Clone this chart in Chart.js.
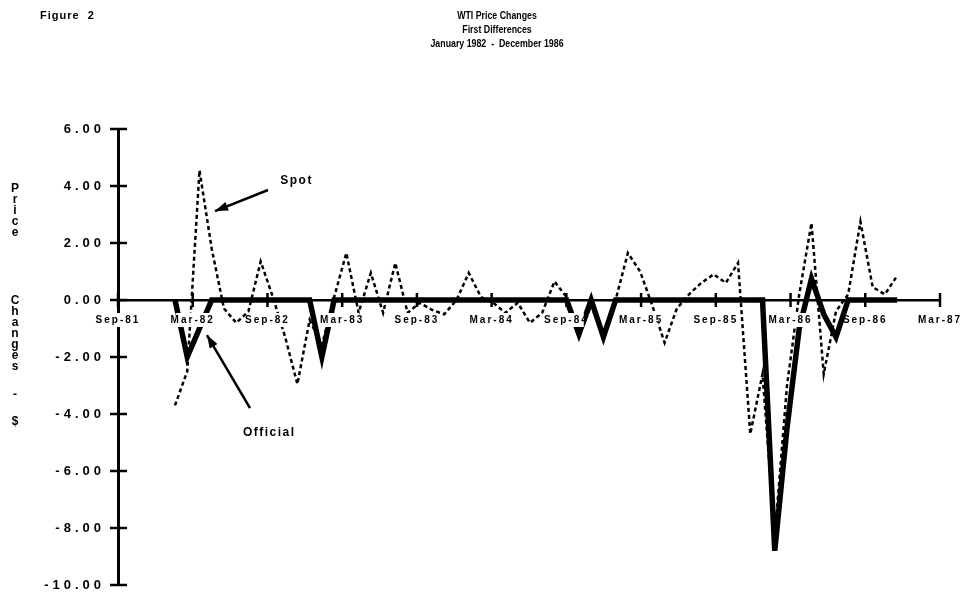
<!DOCTYPE html>
<html><head><meta charset="utf-8">
<style>html,body{margin:0;padding:0;background:#fff;}canvas{display:block;}</style>
<script src="https://cdn.jsdelivr.net/npm/chart.js@4.4.0/dist/chart.umd.min.js"></script>
</head><body>
<canvas id="c" width="963" height="596"></canvas>
<script>
// ---- data ----
const years = ['82','83','84','85','86'];
const monthNames = ['Jan','Feb','Mar','Apr','May','Jun','Jul','Aug','Sep','Oct','Nov','Dec'];
const months = years.flatMap(y => monthNames.map(m => m + '-' + y)); // Jan-82 .. Dec-86
const tickLabels = ['Sep-81','Mar-82','Sep-82','Mar-83','Sep-83','Mar-84','Sep-84','Mar-85','Sep-85','Mar-86','Sep-86','Mar-87'];
const yTicks = [6,4,2,0,-2,-4,-6,-8,-10];
const spot = [
  -3.7,-2.5,4.55,1.8,-0.3,-0.8,-0.4,1.35,0.1,-1.3,-2.95,-0.7,
  -1.6,0.1,1.65,-0.45,0.95,-0.45,1.3,-0.45,-0.1,-0.35,-0.5,0.0,
  0.95,0.1,-0.1,-0.45,-0.1,-0.8,-0.45,0.65,0.1,-1.25,-0.2,-1.3,
  0.0,1.65,1.0,-0.2,-1.5,-0.3,0.2,0.6,0.9,0.6,1.3,-4.7,
  -2.6,-8.3,-3.0,0.2,2.7,-2.6,-0.4,0.2,2.75,0.45,0.2,0.85
];
const official = [
  0,-2.0,-1.0,0,0,0,0,0,0,0,0,0,
  -2.0,0,0,0,0,0,0,0,0,0,0,0,
  0,0,0,0,0,0,0,0,0,-1.2,0,-1.3,
  0,0,0,0,0,0,0,0,0,0,0,0,
  0,-8.8,-4.5,-1.0,0.75,-0.5,-1.3,0,0,0,0,0
];
const titleLines = ['WTI Price Changes','First Differences','January 1982  -  December 1986'];
const figureLabel = 'Figure  2';
const yTitleWords = ['Price','Changes','-','$'];

const FONT = "'Liberation Sans', Arial, Helvetica, sans-serif";

const toPts = arr => arr.map((v, i) => ({x: i, y: v}));

const spacingPlugin = {
  id: 'spacing',
  beforeDraw(chart) {
    [['y','4px'],['xt','2px']].forEach(([id, sp]) => {
      const s = chart.scales[id];
      if (s && !s._spPatched) {
        const orig = s.drawLabels.bind(s);
        s.drawLabels = function(ca) { const c = chart.ctx; c.save(); c.letterSpacing = sp; orig(ca); c.restore(); };
        s._spPatched = true;
      }
    });
  }
};

function arrow(ctx, x1, y1, x2, y2, head) {
  ctx.beginPath(); ctx.moveTo(x1, y1); ctx.lineTo(x2, y2); ctx.stroke();
  if (head) {
    const a = Math.atan2(y2 - y1, x2 - x1), L = 13, W = 4.5;
    ctx.beginPath();
    ctx.moveTo(x2, y2);
    ctx.lineTo(x2 - L*Math.cos(a) + W*Math.sin(a), y2 - L*Math.sin(a) - W*Math.cos(a));
    ctx.lineTo(x2 - L*Math.cos(a) - W*Math.sin(a), y2 - L*Math.sin(a) + W*Math.cos(a));
    ctx.closePath(); ctx.fill();
  }
}

const decorPlugin = {
  id: 'decor',
  afterDraw(chart) {
    const ctx = chart.ctx, xs = chart.scales.x, ys = chart.scales.y, xt = chart.scales.xt;
    const ca = chart.chartArea;
    ctx.save();
    ctx.fillStyle = '#000'; ctx.strokeStyle = '#000';
    // titles (slightly condensed face)
    ctx.font = `bold 11px ${FONT}`; ctx.textBaseline = 'middle'; ctx.textAlign = 'center';
    ctx.letterSpacing = '0px';
    titleLines.forEach((t, k) => {
      ctx.save(); ctx.translate(497, 16 + 14 * k); ctx.scale(0.8, 1); ctx.fillText(t, 0, 0); ctx.restore();
    });
    ctx.textAlign = 'left'; ctx.letterSpacing = '1px';
    ctx.fillText(figureLabel, 40, 16);
    // stacked y title
    ctx.font = `bold 12px ${FONT}`; ctx.textAlign = 'center'; ctx.letterSpacing = '0px';
    const starts = [189, 301, 395, 422];
    yTitleWords.forEach((w, k) => {
      [...w].forEach((ch, j) => ctx.fillText(ch, 15, starts[k] + j * 11));
    });
    // crossing tick marks
    ctx.lineWidth = 2.5;
    const y0 = ys.getPixelForValue(0);
    xt.ticks.forEach(t => {
      const px = xt.getPixelForValue(t.value);
      ctx.beginPath(); ctx.moveTo(px, y0 - 7); ctx.lineTo(px, y0 + 7); ctx.stroke();
    });
    ys.ticks.forEach(t => {
      const py = ys.getPixelForValue(t.value);
      ctx.beginPath(); ctx.moveTo(ca.left - 8, py); ctx.lineTo(ca.left + 9, py); ctx.stroke();
    });
    // annotations (anchored in data coordinates)
    const P = (i, v) => [xs.getPixelForValue(i), ys.getPixelForValue(v)];
    ctx.font = `bold 12px ${FONT}`; ctx.textAlign = 'left'; ctx.letterSpacing = '1.5px';
    let [tx, ty] = P(8.6, 4.2); ctx.fillText('Spot', tx, ty);
    [tx, ty] = P(5.55, -4.67); ctx.fillText('Official', tx, ty);
    ctx.lineWidth = 2.5;
    let a = P(7.6, 3.86), b = P(3.27, 3.12); arrow(ctx, a[0], a[1], b[0], b[1], true);
    a = P(6.13, -3.79); b = P(2.61, -1.23); arrow(ctx, a[0], a[1], b[0], b[1], true);
    ctx.restore();
  }
};

const zeroPad = s => { s.paddingTop = 0; s.paddingBottom = 0; s.paddingLeft = 0; s.paddingRight = 0; };

new Chart(document.getElementById('c'), {
  type: 'line',
  data: {
    labels: months,
    datasets: [
      { label: 'Official', data: toPts(official), borderColor: '#000', borderWidth: 5.5, pointRadius: 0, tension: 0, fill: false, xAxisID: 'x', yAxisID: 'y', order: 2 },
      { label: 'Spot', data: toPts(spot), borderColor: '#000', borderWidth: 2.5, borderDash: [4, 3], pointRadius: 0, tension: 0, fill: false, xAxisID: 'x', yAxisID: 'y', order: 1 }
    ]
  },
  options: {
    responsive: false, animation: false, devicePixelRatio: 1,
    layout: { padding: { left: 0, right: 23, top: 129, bottom: 11 } },
    plugins: { legend: { display: false }, title: { display: false }, tooltip: { enabled: false } },
    scales: {
      x: { type: 'linear', display: false, min: -4.657, max: 62.5 },
      xt: {
        type: 'linear', axis: 'x', position: { y: 0 }, min: 0, max: 66,
        afterFit(s) { s.height = 0; zeroPad(s); },
        afterBuildTicks(s) { s.ticks = tickLabels.map((l, k) => ({ value: k * 6 })); },
        ticks: { z: 1, autoSkip: false, maxRotation: 0, minRotation: 0, padding: 14, color: '#000',
                 font: { family: FONT, size: 10, weight: 'bold' },
                 callback: v => tickLabels[Math.round(v / 6)],
                 showLabelBackdrop: true, backdropColor: '#fff', backdropPadding: 1 },
        grid: { display: false, drawTicks: false },
        border: { display: true, color: '#000', width: 2.5 }
      },
      y: {
        type: 'linear', min: -10, max: 6,
        afterFit(s) { s.width = 118; zeroPad(s); },
        afterBuildTicks(s) { s.ticks = yTicks.map(v => ({ value: v })); },
        ticks: { color: '#000', padding: 13, font: { family: FONT, size: 13, weight: 'bold' }, callback: v => v.toFixed(2) },
        grid: { display: false, drawTicks: false },
        border: { display: true, color: '#000', width: 3 }
      }
    }
  },
  plugins: [spacingPlugin, decorPlugin]
});
</script>
</body></html>
